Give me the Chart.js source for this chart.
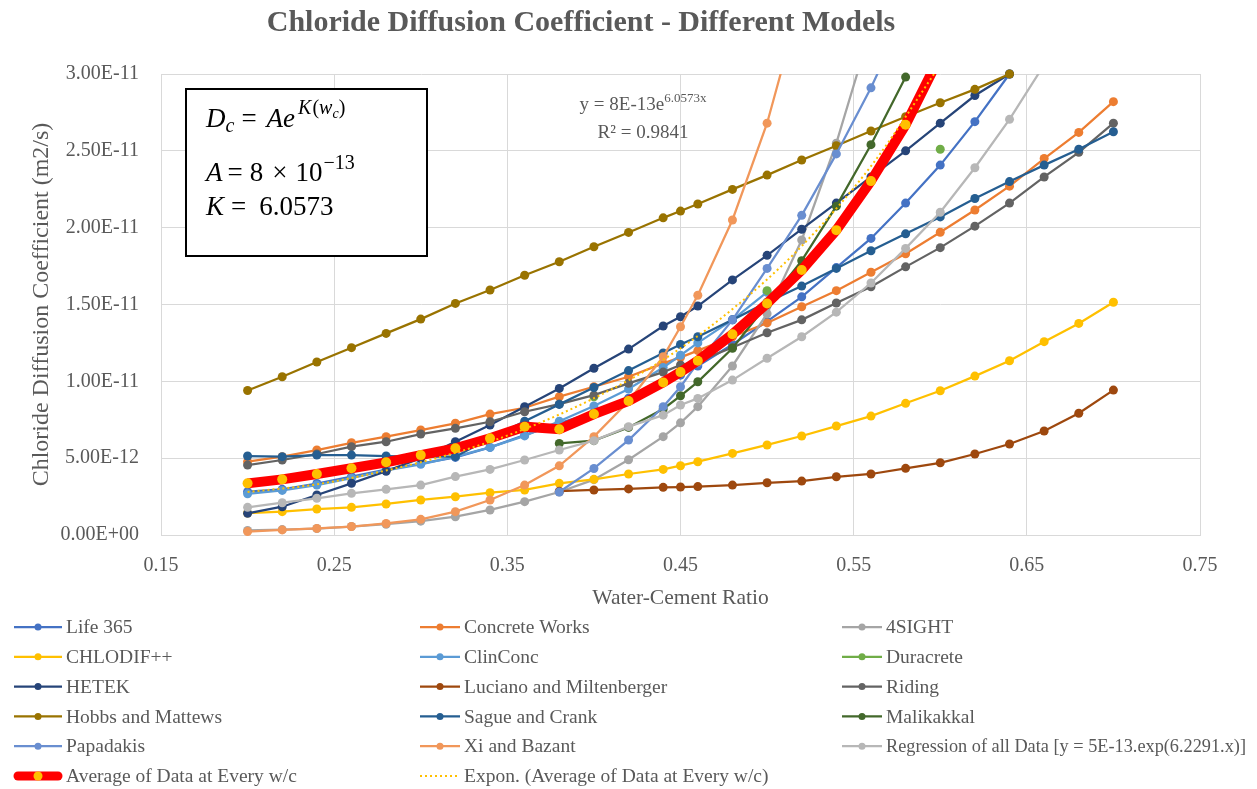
<!DOCTYPE html>
<html>
<head>
<meta charset="utf-8">
<script src="https://cdn.jsdelivr.net/npm/chart.js@4.4.1/dist/chart.umd.min.js"></script>
<style>
html, body { margin: 0; padding: 0; background: #fff; }
#wrap { width: 1257px; height: 789px; position: relative; }
</style>
</head>
<body>
<div id="wrap"><canvas id="myChart" width="1257" height="789"></canvas></div>
<script>
// water-cement ratios
const wc = [0.20, 0.22, 0.24, 0.26, 0.28, 0.30, 0.32, 0.34, 0.36, 0.38, 0.40, 0.42, 0.44, 0.45, 0.46,
            0.48, 0.50, 0.52, 0.54, 0.56, 0.58, 0.60, 0.62, 0.64, 0.66, 0.68, 0.70];
const _ = null;

// values in units of 1E-12 m2/s
const life365    = [2.82, 2.97, 3.35, 3.8, 4.25, 4.65, 5.05, 5.7, 6.5, 7.27, 8.0, 8.9, 9.9, 10.4, 11.0, 12.4, 13.9, 15.5, 17.4, 19.3, 21.6, 24.07, 26.9, 30.0, _, _, _];
const concrete   = [4.77, 5.1, 5.53, 6.0, 6.4, 6.83, 7.27, 7.87, 8.28, 9.0, 9.65, 10.3, 11.17, 11.56, 12.0, 12.9, 13.8, 14.85, 15.9, 17.1, 18.3, 19.7, 21.15, 22.7, 24.5, 26.2, 28.2];
const foursight  = [0.3, 0.35, 0.42, 0.55, 0.7, 0.9, 1.19, 1.63, 2.17, 2.8, 3.6, 4.9, 6.4, 7.3, 8.35, 11.0, 14.4, 19.2, 25.5, 33.0, _, _, _, _, _, _, _];
const chlodif    = [1.43, 1.52, 1.69, 1.8, 2.02, 2.28, 2.49, 2.75, 2.93, 3.36, 3.62, 3.97, 4.27, 4.51, 4.77, 5.31, 5.86, 6.44, 7.09, 7.74, 8.57, 9.39, 10.34, 11.34, 12.58, 13.77, 15.15];
const clinconc   = [2.68, 2.9, 3.25, 3.7, 4.2, 4.6, 5.1, 5.7, 6.45, 7.4, 8.4, 9.5, 10.9, 11.7, 12.5, 14.0, 15.8, _, _, _, _, _, _, _, _, _, _];
const duracrete  = [_, _, _, _, _, _, _, _, _, _, 9.0, _, _, _, _, _, 15.9, _, _, _, _, 25.1, _, _, _, _, _];
const hetek      = [1.41, 1.84, 2.6, 3.36, 4.15, 5.0, 6.07, 7.16, 8.35, 9.54, 10.85, 12.1, 13.6, 14.2, 14.9, 16.6, 18.2, 19.9, 21.6, 23.3, 25.0, 26.8, 28.6, 30.0, _, _, _];
const luciano    = [_, _, _, _, _, _, _, _, _, 2.85, 2.93, 3.0, 3.1, 3.12, 3.15, 3.25, 3.4, 3.51, 3.79, 3.97, 4.34, 4.7, 5.27, 5.92, 6.77, 7.92, 9.43];
const riding     = [4.55, 4.88, 5.27, 5.75, 6.07, 6.57, 6.94, 7.37, 8.02, 8.52, 9.1, 9.87, 10.6, 11.06, 11.3, 12.2, 13.16, 14.0, 15.1, 16.15, 17.45, 18.7, 20.1, 21.6, 23.3, 24.9, 26.8];
const hobbs      = [9.4, 10.3, 11.26, 12.19, 13.12, 14.05, 15.07, 15.94, 16.9, 17.78, 18.76, 19.69, 20.64, 21.08, 21.54, 22.49, 23.42, 24.4, 25.33, 26.29, 27.22, 28.13, 29.0, 30.0, _, _, _];
const sague      = [5.14, 5.1, 5.2, 5.2, 5.14, 5.1, 5.1, 6.3, 7.4, 8.5, 9.6, 10.7, 11.85, 12.4, 12.9, 14.0, 15.15, 16.2, 17.35, 18.5, 19.6, 20.7, 21.9, 23.0, 24.07, 25.1, 26.24];
const malikakkal = [_, _, _, _, _, _, _, _, _, 5.96, 6.14, 7.0, 8.2, 9.06, 9.97, 12.15, 15.0, 17.85, 21.4, 25.4, 29.8, _, _, _, _, _, _];
const papadakis  = [_, _, _, _, _, _, _, _, _, 2.8, 4.33, 6.18, 8.35, 9.65, 11.2, 14.0, 17.35, 20.8, 24.8, 29.1, 34.0, _, _, _, _, _, _];
const xiBazant   = [0.22, 0.33, 0.43, 0.55, 0.75, 1.02, 1.52, 2.28, 3.25, 4.5, 6.4, 8.7, 11.6, 13.55, 15.6, 20.5, 26.8, 35.0, _, _, _, _, _, _, _, _, _];
const regression = [1.8, 2.1, 2.39, 2.71, 2.97, 3.25, 3.8, 4.27, 4.88, 5.53, 6.14, 7.05, 7.8, 8.46, 8.89, 10.08, 11.5, 12.9, 14.5, 16.4, 18.65, 21.0, 23.9, 27.05, 30.6, 34.6, 39.1];
const average    = [3.36, 3.62, 3.97, 4.34, 4.73, 5.2, 5.64, 6.29, 7.05, 6.88, 7.87, 8.72, 9.93, 10.6, 11.34, 13.06, 15.07, 17.24, 19.84, 23.03, 26.7, 31.2, 36.0, _, _, _, _];

// dotted exponential trendline
const trendWc  = [0.20, 0.24, 0.28, 0.32, 0.36, 0.40, 0.44, 0.48, 0.52, 0.56, 0.60];
const trendVal = [2.8, 3.3, 4.2, 5.35, 6.9, 8.9, 11.4, 14.7, 18.8, 24.0, 30.6];

const UNIT = 1e-12;

const TXT = '#595959';
const SERIF = '"Liberation Serif", "Times New Roman", serif';

function pts(xs, ys) {
    return xs.map(function (x, i) { return { x: x, y: ys[i] === null ? null : ys[i] * UNIT }; });
}

var clipTop = { left: false, right: false, top: 0, bottom: false };

function series(label, vals, color, overflow) {
    return {
        label: label,
        data: pts(wc, vals),
        borderColor: color,
        backgroundColor: color,
        borderWidth: 2.25,
        pointRadius: 4.5,
        pointBorderWidth: 0,
        pointBackgroundColor: color,
        tension: 0,
        spanGaps: false,
        clip: overflow ? clipTop : false
    };
}

var datasets = [
    series('Life 365', life365, '#4472C4'),
    series('Concrete Works', concrete, '#ED7D31'),
    series('4SIGHT', foursight, '#A5A5A5', true),
    series('CHLODIF++', chlodif, '#FFC000'),
    series('ClinConc', clinconc, '#5B9BD5'),
    series('Duracrete', duracrete, '#70AD47'),
    series('HETEK', hetek, '#264478'),
    series('Luciano and Miltenberger', luciano, '#9E480E'),
    series('Riding', riding, '#636363'),
    series('Hobbs and Mattews', hobbs, '#997300'),
    series('Sague and Crank', sague, '#255E91'),
    series('Malikakkal', malikakkal, '#43682B'),
    series('Papadakis', papadakis, '#698ED0', true),
    series('Xi and Bazant', xiBazant, '#F1975A', true),
    series('Regression of all Data [y = 5E-13.exp(6.2291.x)]', regression, '#B7B7B7', true)
];

var avg = series('Average of Data at Every w/c', average, '#FF0000', true);
avg.borderWidth = 10;
avg.pointRadius = 5;
avg.pointBackgroundColor = '#FFC000';
avg.pointBorderColor = '#FFC000';
datasets.push(avg);

datasets.push({
    label: 'Expon. (Average of Data at Every w/c)',
    data: pts(trendWc, trendVal),
    borderColor: '#FFC000',
    borderWidth: 2,
    borderDash: [2, 3],
    pointRadius: 0,
    cubicInterpolationMode: 'monotone',
    clip: clipTop
});

// later series on top, like the spreadsheet
datasets.forEach(function (d, i) { d.order = -i; });

function sci(v) {
    if (Math.abs(v) < 1e-20) return '0.00E+00';
    var parts = v.toExponential(2).split('e');
    var e = parseInt(parts[1], 10);
    var sign = e < 0 ? '-' : '+';
    var a = Math.abs(e);
    return parts[0] + 'E' + sign + (a < 10 ? '0' + a : a);
}

// draw a run of text pieces with different fonts / offsets
function runs(ctx, x, y, pieces) {
    pieces.forEach(function (p) {
        ctx.font = p.f;
        ctx.fillText(p.t, x, y + (p.dy || 0));
        x += ctx.measureText(p.t).width + (p.gap || 0);
    });
    return x;
}

const decorPlugin = {
    id: 'decor',
    afterDraw: function (chart) {
        var ctx = chart.ctx;
        ctx.save();

        // title
        ctx.fillStyle = TXT;
        ctx.font = 'bold 30px ' + SERIF;
        ctx.textAlign = 'center';
        ctx.textBaseline = 'middle';
        ctx.fillText('Chloride Diffusion Coefficient - Different Models', 581, 23);

        // trendline equation
        ctx.textAlign = 'left';
        ctx.textBaseline = 'alphabetic';
        ctx.font = '19px ' + SERIF;
        var w1 = ctx.measureText('y = 8E-13e').width;
        ctx.font = '13px ' + SERIF;
        var w2 = ctx.measureText('6.0573x').width;
        var sx = 643 - (w1 + w2) / 2;
        runs(ctx, sx, 110, [
            { t: 'y = 8E-13e', f: '19px ' + SERIF },
            { t: '6.0573x', f: '13px ' + SERIF, dy: -8 }
        ]);
        ctx.font = '19px ' + SERIF;
        ctx.textAlign = 'center';
        ctx.fillText('R\u00B2 = 0.9841', 643, 138);
        ctx.textAlign = 'left';

        // model box
        ctx.fillStyle = '#fff';
        ctx.fillRect(186, 89, 241, 167);
        ctx.strokeStyle = '#000';
        ctx.lineWidth = 2;
        ctx.strokeRect(186, 89, 241, 167);
        ctx.fillStyle = '#000';
        var it = 'italic 27px ' + SERIF, rm = '27px ' + SERIF;
        var itS = 'italic 20px ' + SERIF, rmS = '20px ' + SERIF, itSS = 'italic 14px ' + SERIF;
        runs(ctx, 206, 127, [
            { t: 'D', f: it },
            { t: 'c', f: itS, dy: 5, gap: 7 },
            { t: '=', f: rm, gap: 10 },
            { t: 'A', f: it },
            { t: 'e', f: it, gap: 3 },
            { t: 'K', f: itS, dy: -13, gap: 1 },
            { t: '(', f: rmS, dy: -13 },
            { t: 'w', f: itS, dy: -13 },
            { t: 'c', f: itSS, dy: -9 },
            { t: ')', f: rmS, dy: -13 }
        ]);
        runs(ctx, 206, 181, [
            { t: 'A', f: it, gap: 5 },
            { t: '=', f: rm, gap: 7 },
            { t: '8', f: rm, gap: 9 },
            { t: '\u00D7', f: rm, gap: 8 },
            { t: '10', f: rm, gap: 1 },
            { t: '\u221213', f: rmS, dy: -12 }
        ]);
        runs(ctx, 206, 215, [
            { t: 'K', f: it, gap: 7 },
            { t: '=', f: rm, gap: 13 },
            { t: '6.0573', f: rm }
        ]);

        // legend, three columns
        var colX = [14, 420, 842];
        var ds = chart.data.datasets;
        ctx.font = '19.5px ' + SERIF;
        ctx.textBaseline = 'middle';
        ds.forEach(function (d, i) {
            var col = i % 3;
            var x0 = colX[col];
            var y = 627 + Math.floor(i / 3) * 29.8;
            var len = col === 0 ? 48 : 40;
            var thick = d.borderWidth > 5;
            ctx.save();
            ctx.strokeStyle = d.borderColor;
            ctx.lineWidth = thick ? 9 : d.borderWidth;
            ctx.lineCap = thick ? 'round' : 'butt';
            if (d.borderDash) ctx.setLineDash(d.borderDash);
            ctx.beginPath();
            ctx.moveTo(x0 + (thick ? 4 : 0), y);
            ctx.lineTo(x0 + len - (thick ? 4 : 0), y);
            ctx.stroke();
            if (d.pointRadius > 0) {
                ctx.fillStyle = d.pointBackgroundColor;
                ctx.beginPath();
                ctx.arc(x0 + len / 2, y, thick ? 4.5 : 3.5, 0, Math.PI * 2);
                ctx.fill();
            }
            ctx.restore();
            ctx.fillStyle = TXT;
            var tx = x0 + len + 4;
            var room = (col < 2 ? colX[col + 1] : 1250) - tx - 4;
            ctx.fillText(d.label, tx, y + 1, room);
        });

        ctx.restore();
    }
};

const ctx = document.getElementById('myChart');

const myChart = new Chart(ctx, {
    type: 'line',
    data: { datasets: datasets },
    plugins: [decorPlugin],
    options: {
        responsive: false,
        animation: false,
        events: [],
        layout: { padding: { top: 74, left: 0, right: 57, bottom: 174 } },
        plugins: {
            legend: { display: false },
            tooltip: { enabled: false },
            title: { display: false }
        },
        scales: {
            x: {
                type: 'linear',
                min: 0.15,
                max: 0.75,
                afterFit: function (s) { s.height = 80; },
                ticks: {
                    stepSize: 0.1,
                    padding: 19,
                    color: TXT,
                    font: { family: SERIF, size: 20 },
                    callback: function (v) { return v.toFixed(2); }
                },
                grid: { color: '#D9D9D9', drawTicks: false },
                border: { color: '#D9D9D9' },
                title: {
                    display: true,
                    text: 'Water-Cement Ratio',
                    color: TXT,
                    font: { family: SERIF, size: 21.5 },
                    padding: { top: 0, bottom: 4 }
                }
            },
            y: {
                min: 0,
                max: 3e-11,
                afterFit: function (s) { s.width = 161; },
                ticks: {
                    stepSize: 5e-12,
                    padding: 22,
                    color: TXT,
                    font: { family: SERIF, size: 20 },
                    callback: function (v) { return sci(v); }
                },
                grid: { color: '#D9D9D9', drawTicks: false },
                border: { color: '#D9D9D9' },
                title: {
                    display: true,
                    text: 'Chloride Diffusion Coefficient (m2/s)',
                    color: TXT,
                    font: { family: SERIF, size: 24 },
                    padding: { top: 27, bottom: 0 }
                }
            }
        }
    }
});
</script>
</body>
</html>
